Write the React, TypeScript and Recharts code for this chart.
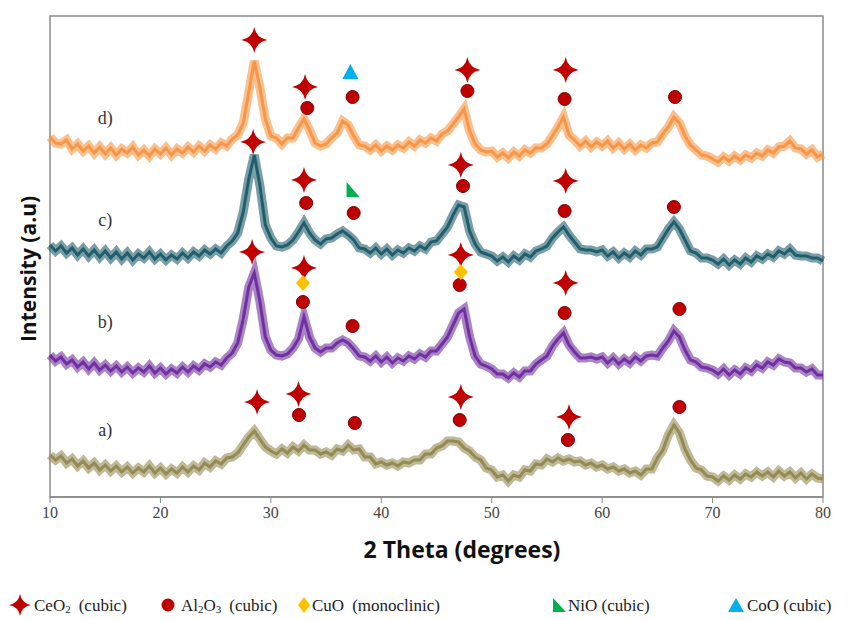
import { ComposedChart, Line, Scatter, XAxis, YAxis, ReferenceArea } from 'recharts';

// 2 theta grid (degrees), 0.5 step
const angles = [
  10, 10.5, 11, 11.5, 12, 12.5, 13, 13.5, 14, 14.5,
  15, 15.5, 16, 16.5, 17, 17.5, 18, 18.5, 19, 19.5,
  20, 20.5, 21, 21.5, 22, 22.5, 23, 23.5, 24, 24.5,
  25, 25.5, 26, 26.5, 27, 27.5, 28, 28.5, 29, 29.5,
  30, 30.5, 31, 31.5, 32, 32.5, 33, 33.5, 34, 34.5,
  35, 35.5, 36, 36.5, 37, 37.5, 38, 38.5, 39, 39.5,
  40, 40.5, 41, 41.5, 42, 42.5, 43, 43.5, 44, 44.5,
  45, 45.5, 46, 46.5, 47, 47.5, 48, 48.5, 49, 49.5,
  50, 50.5, 51, 51.5, 52, 52.5, 53, 53.5, 54, 54.5,
  55, 55.5, 56, 56.5, 57, 57.5, 58, 58.5, 59, 59.5,
  60, 60.5, 61, 61.5, 62, 62.5, 63, 63.5, 64, 64.5,
  65, 65.5, 66, 66.5, 67, 67.5, 68, 68.5, 69, 69.5,
  70, 70.5, 71, 71.5, 72, 72.5, 73, 73.5, 74, 74.5,
  75, 75.5, 76, 76.5, 77, 77.5, 78, 78.5, 79, 79.5,
  80,
];

// intensities (a.u., stacked with offsets as in the figure)
const sampleD = [
  360, 354, 353, 357, 348, 353, 346, 351, 344, 350,
  343, 349, 342, 348, 344, 350, 342, 347, 341, 348,
  343, 349, 342, 348, 344, 350, 345, 351, 346, 352,
  348, 354, 351, 358, 362, 374, 405, 436, 410, 378,
  361, 359, 353, 359, 359, 369, 378, 367, 354, 351,
  353, 359, 364, 376, 372, 361, 352, 351, 347, 352,
  346, 351, 347, 352, 349, 355, 351, 357, 354, 359,
  356, 363, 366, 373, 380, 388, 366, 353, 347, 345,
  346, 340, 344, 339, 345, 341, 347, 344, 349, 349,
  353, 361, 370, 380, 362, 357, 351, 356, 350, 355,
  351, 356, 349, 354, 348, 353, 347, 352, 349, 354,
  355, 363, 370, 380, 374, 361, 352, 347, 342, 341,
  338, 335, 340, 336, 341, 337, 342, 339, 344, 341,
  347, 344, 350, 351, 356, 349, 348, 343, 347, 340,
  343,
];
const sampleC = [
  252, 246, 251, 244, 249, 242, 248, 241, 247, 240,
  246, 239, 245, 238, 244, 237, 243, 239, 245, 238,
  243, 237, 242, 238, 244, 239, 245, 241, 247, 243,
  248, 244, 251, 256, 264, 285, 318, 342, 312, 272,
  259, 251, 250, 252, 257, 265, 274, 264, 257, 253,
  258, 259, 263, 266, 262, 257, 249, 248, 244, 249,
  243, 248, 242, 247, 244, 249, 246, 251, 248, 255,
  256, 263, 270, 282, 292, 290, 266, 253, 245, 243,
  241, 236, 240, 235, 241, 237, 243, 240, 246, 248,
  251, 259, 265, 270, 262, 255, 248, 247, 247, 245,
  247, 241, 245, 239, 244, 240, 246, 242, 248, 248,
  250, 259, 268, 275, 268, 257, 246, 244, 239, 239,
  237, 233, 238, 232, 237, 233, 239, 235, 241, 238,
  243, 240, 246, 243, 248, 242, 241, 241, 239, 239,
  236,
];
const sampleB = [
  142, 136, 140, 133, 137, 130, 135, 128, 134, 127,
  132, 126, 131, 125, 130, 124, 129, 125, 131, 124,
  129, 123, 128, 124, 130, 125, 131, 127, 133, 130,
  135, 132, 139, 144, 154, 178, 210, 224, 196, 160,
  147, 142, 141, 143, 149, 158, 180, 160, 149, 145,
  149, 149, 154, 157, 154, 148, 141, 140, 136, 141,
  135, 140, 134, 139, 136, 141, 138, 143, 140, 146,
  146, 153, 160, 172, 184, 188, 160, 141, 133, 131,
  128, 123, 123, 119, 124, 120, 126, 126, 133, 137,
  141, 151, 158, 164, 152, 145, 139, 139, 140, 138,
  140, 134, 139, 133, 138, 134, 140, 136, 141, 142,
  141, 149, 156, 166, 160, 147, 137, 135, 130, 129,
  127, 123, 128, 122, 127, 123, 129, 126, 132, 129,
  135, 132, 138, 135, 134, 129, 129, 125, 128, 122,
  122,
];
const sampleA = [
  42, 37, 41, 34, 38, 31, 36, 29, 34, 27,
  32, 26, 31, 25, 30, 24, 29, 25, 31, 24,
  29, 23, 28, 24, 30, 25, 31, 27, 34, 30,
  36, 33, 39, 40, 44, 52, 60, 66, 58, 50,
  46, 43, 48, 44, 50, 46, 52, 47, 47, 43,
  45, 42, 48, 46, 52, 47, 48, 40, 40, 33,
  35, 32, 34, 31, 35, 34, 37, 37, 43, 43,
  49, 51, 56, 56, 55, 49, 46, 40, 37, 29,
  27, 20, 22, 16, 22, 20, 27, 26, 33, 32,
  38, 35, 39, 36, 38, 35, 36, 32, 34, 30,
  32, 28, 30, 26, 28, 24, 26, 22, 28, 28,
  39, 47, 62, 72, 64, 48, 37, 29, 27, 21,
  20, 16, 21, 17, 22, 18, 23, 20, 25, 21,
  25, 20, 26, 21, 25, 19, 24, 18, 23, 19,
  18,
];

// phase markers (2 theta, height)
const ceo2Marks = [
  { x: 28.5, y: 457 }, { x: 33.1, y: 410 }, { x: 47.8, y: 427 }, { x: 56.7, y: 427 },
  { x: 28.4, y: 355 }, { x: 33.0, y: 317 }, { x: 47.2, y: 332 }, { x: 56.7, y: 316 },
  { x: 28.3, y: 245 }, { x: 33.0, y: 229 }, { x: 47.2, y: 242 }, { x: 56.7, y: 214 },
  { x: 28.75, y: 95 }, { x: 32.5, y: 103 }, { x: 47.2, y: 100 }, { x: 57.0, y: 80 },
];
const al2o3Marks = [
  { x: 33.3, y: 389 }, { x: 37.4, y: 400 }, { x: 47.8, y: 406 }, { x: 56.6, y: 398 }, { x: 66.6, y: 400 },
  { x: 33.2, y: 294 }, { x: 37.5, y: 284 }, { x: 47.4, y: 311 }, { x: 56.6, y: 286 }, { x: 66.5, y: 290 },
  { x: 32.9, y: 195 }, { x: 37.4, y: 171 }, { x: 47.1, y: 212 }, { x: 56.6, y: 184 }, { x: 67.0, y: 188 },
  { x: 32.55, y: 82 }, { x: 37.6, y: 74 }, { x: 47.1, y: 77 }, { x: 56.9, y: 57 }, { x: 67.0, y: 90 },
];
const cuoMarks = [{ x: 32.9, y: 214 }, { x: 47.2, y: 225 }];
const nioMarks = [{ x: 37.4, y: 307 }];
const cooMarks = [{ x: 37.2, y: 425 }];

const sampleNames = ['a)', 'b)', 'c)', 'd)'];
const sampleNamePos = [{ x: 15, y: 67 }, { x: 15, y: 175 }, { x: 15, y: 277 }, { x: 15, y: 379 }];

const xTicks = [10, 20, 30, 40, 50, 60, 70, 80];

const data = angles.map((x, i) => ({
  x,
  a: sampleA[i],
  b: sampleB[i],
  c: sampleC[i],
  d: sampleD[i],
}));
const nameData = sampleNamePos.map((p, i) => ({ ...p, name: sampleNames[i] }));

const RED = '#c00000';
const SERIF = '"Liberation Serif", "Times New Roman", serif';

const starPath = (cx, cy, r) => {
  const k = r * 0.15;
  return `M${cx},${cy - r} Q${cx + k},${cy - k} ${cx + r},${cy} Q${cx + k},${cy + k} ${cx},${cy + r} Q${cx - k},${cy + k} ${cx - r},${cy} Q${cx - k},${cy - k} ${cx},${cy - r} Z`;
};

const StarShape = (props) => <path d={starPath(props.cx, props.cy, 13)} fill={RED} />;
const DotShape = (props) => <circle cx={props.cx} cy={props.cy} r={6.5} fill={RED} stroke="#7a0000" strokeWidth={1} />;
const DiamondShape = (props) => {
  const { cx, cy } = props;
  return <path d={`M${cx},${cy - 8} L${cx + 7},${cy} L${cx},${cy + 8} L${cx - 7},${cy} Z`} fill="#ffc000" />;
};
const NioShape = (props) => {
  const { cx, cy } = props;
  return <path d={`M${cx - 6},${cy - 8} L${cx - 6},${cy + 7} L${cx + 7},${cy + 7} Z`} fill="#00b050" />;
};
const CooShape = (props) => {
  const { cx, cy } = props;
  return <path d={`M${cx},${cy - 8} L${cx + 8},${cy + 7} L${cx - 8},${cy + 7} Z`} fill="#00b0f0" />;
};
const NameShape = (props) => (
  <text x={props.cx} y={props.cy} textAnchor="middle" dominantBaseline="central" fontFamily={SERIF} fontSize={18} fill="#333">
    {props.payload.name}
  </text>
);

const Legend = () => (
  <svg width={849} height={28} style={{ position: 'absolute', left: 0, top: 584 }}>
    <g fontFamily={SERIF} fontSize={17} fill="#222">
      <path d={starPath(12, 13, 11)} fill={RED} />
      <text x={26} y={19}>CeO<tspan fontSize={11} dy={2}>2</tspan><tspan dy={-2} dx={8}>(cubic)</tspan></text>
      <circle cx={160} cy={13} r={6.5} fill={RED} />
      <text x={173} y={19}>Al<tspan fontSize={11} dy={2}>2</tspan><tspan dy={-2}>O</tspan><tspan fontSize={11} dy={2}>3</tspan><tspan dy={-2} dx={8}>(cubic)</tspan></text>
      <path d="M296,5 L302,13 L296,21 L290,13 Z" fill="#ffc000" />
      <text x={304} y={19}>CuO<tspan dx={8}>(monoclinic)</tspan></text>
      <path d="M545,6 L545,20 L558,20 Z" fill="#00b050" />
      <text x={560} y={19}>NiO (cubic)</text>
      <path d="M728,6 L736,20 L720,20 Z" fill="#00b0f0" />
      <text x={739} y={19}>CoO (cubic)</text>
    </g>
  </svg>
);

const colors = { a: '#948a54', b: '#7030a0', c: '#215e6c', d: '#f79646' };

export default function App() {
  return (
    <div style={{ position: 'relative', width: 849, height: 612 }}>
      <ComposedChart width={849} height={604} data={data} margin={{ top: 8, left: 42, right: 34, bottom: 85 }}>
        <XAxis
          dataKey="x"
          type="number"
          domain={[10, 80]}
          ticks={xTicks}
          height={30}
          tickSize={6}
          tickMargin={4}
          axisLine={{ stroke: '#8a8a8a', strokeWidth: 1.5 }}
          tickLine={{ stroke: '#8a8a8a' }}
          tick={{ fill: '#444', fontFamily: SERIF, fontSize: 16 }}
        />
        <YAxis type="number" domain={[0, 481]} hide />
        <ReferenceArea x1={10} x2={80} y1={0} y2={481} fill="none" stroke="#8a8a8a" strokeWidth={1.5} />
        {['a', 'b', 'c', 'd'].map((k) => (
          <Line key={k + 'band'} dataKey={k} stroke={colors[k]} strokeWidth={9} strokeOpacity={0.6} dot={false} isAnimationActive={false} />
        ))}
        {['a', 'b', 'c', 'd'].map((k) => (
          <Line key={k} dataKey={k} stroke={colors[k]} strokeWidth={3} dot={false} isAnimationActive={false} />
        ))}
        <Scatter data={al2o3Marks} dataKey="y" shape={DotShape} isAnimationActive={false} />
        <Scatter data={ceo2Marks} dataKey="y" shape={StarShape} isAnimationActive={false} />
        <Scatter data={cuoMarks} dataKey="y" shape={DiamondShape} isAnimationActive={false} />
        <Scatter data={nioMarks} dataKey="y" shape={NioShape} isAnimationActive={false} />
        <Scatter data={cooMarks} dataKey="y" shape={CooShape} isAnimationActive={false} />
        <Scatter data={nameData} dataKey="y" shape={NameShape} isAnimationActive={false} />
      </ComposedChart>
      <div
        style={{
          position: 'absolute', left: 454, top: 541, transform: 'translate(-50%, -50%)',
          fontFamily: '"Open Sans", sans-serif', fontWeight: 700, fontSize: 23, whiteSpace: 'nowrap', color: '#111',
        }}
      >
        2 Theta (degrees)
      </div>
      <div
        style={{
          position: 'absolute', left: 20, top: 261, transform: 'translate(-50%, -50%) rotate(-90deg)',
          fontFamily: '"Open Sans", sans-serif', fontWeight: 700, fontSize: 21, whiteSpace: 'nowrap', color: '#111',
        }}
      >
        Intensity (a.u)
      </div>
      <Legend />
    </div>
  );
}
